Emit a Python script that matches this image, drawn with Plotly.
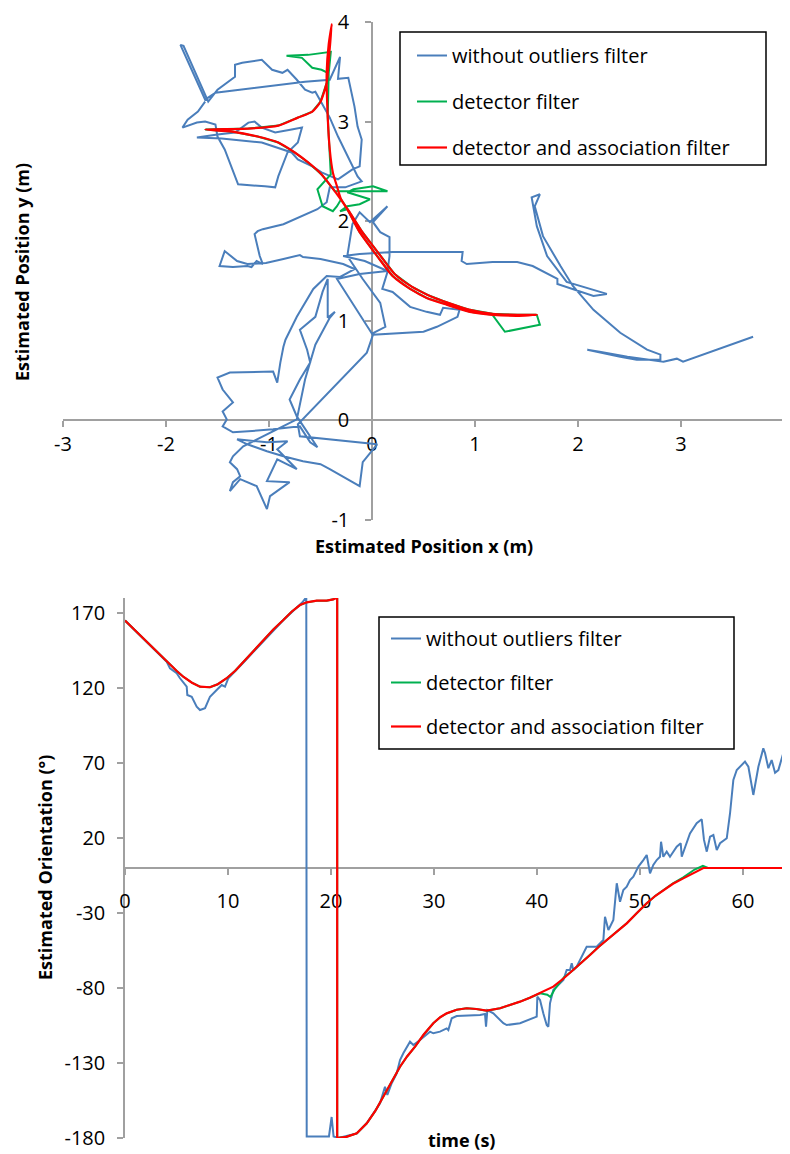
import plotly.graph_objects as go

# ---------------- data: top chart (estimated position, m) ----------------
pos_blue_x = [
    -1.62, -1.69, -1.79, -1.84, -1.70, -1.62, -1.52, -1.50, -1.43, -1.36,
    -1.30, -1.04, -0.94, -0.91, -0.82, -0.72, -0.68, -0.78, -0.94, -1.07,
    -1.14, -1.20, -1.33, -1.50, -1.70, -1.46, -1.07, -0.78, -0.72, -0.58,
    -0.49, -0.33, -0.19, -0.12, -0.10, -0.14, -0.17, -0.23, -0.33, -0.31,
    -0.41, -0.65, -1.04, -1.52, -1.62, -1.86, -1.83, -1.59, -1.50, -1.33,
    -1.33, -1.26, -1.07, -0.97, -0.87, -0.82, -0.73, -0.65, -0.58, -0.55,
    -0.49, -0.41, -0.33, -0.19, -0.14, -0.10, -0.26, -0.41,
    -0.44, -0.53, -0.70, -0.86, -1.06, -1.11, -1.14, -1.09, -1.06, -1.12,
    -1.17, -1.21, -1.35, -1.48, -1.43, -1.31, -1.21, -1.03, -0.86, -0.70,
    -0.67, -0.50, -0.28, -0.17, -0.31,
    -0.44, -0.57, -0.73, -0.84, -0.86, -0.89, -0.92, -0.96, -1.38, -1.50,
    -1.45, -1.35, -1.45, -1.41, -1.45, -1.35, -0.96, -0.70, -0.60, -0.53,
    -0.67, -0.73, -0.80, -0.70, -0.60, -0.63, -0.70, -0.55, -0.48, -0.43,
    -0.43, -0.36, -0.41, -0.55, -0.65, -0.73,
    -1.25, -1.35, -1.38, -1.31, -1.28, -1.35, -1.38, -1.28, -1.12, -1.02,
    -0.99, -0.80, -1.02, -0.92, -0.73, -0.80, -0.92, -0.82, -1.02, -1.31,
    -1.21, -1.02, -0.86, -0.67, -0.50, -0.41, -0.12, -0.09, 0.05, -0.70,
    -0.72, -0.05,
    0.01, 0.50, 0.63, 0.83, 0.85, 0.69, 0.66, 0.53, 0.37, 0.20,
    0.10, 0.15, 0.17, 0.17, 0.08, 0.01, 0.15, -0.02, -0.12, -0.19,
    -0.24, -0.09, 0.08, 0.13, 0.00, -0.34, -0.12, 0.15, -0.07, -0.28,
    -0.12, 0.20, 0.88, 0.87, 0.92, 1.17, 1.41, 1.56, 1.80, 1.80,
    1.95, 2.15, 2.28, 1.89, 1.70, 1.60, 1.55, 1.63, 1.58, 1.66,
    1.83, 1.95, 2.15, 2.41, 2.67, 2.80, 2.80, 2.57, 2.41, 2.09,
    2.21, 2.48, 2.83, 2.96, 3.02, 3.70,
]
pos_blue_y = [
    3.20, 3.10, 3.02, 2.94, 2.99, 3.00, 2.97, 2.85, 2.72, 2.52,
    2.37, 2.35, 2.34, 2.45, 2.69, 2.79, 2.94, 2.92, 2.89, 2.94,
    3.00, 2.99, 2.89, 2.87, 2.84, 2.83, 2.79, 2.69, 2.62, 2.55,
    2.49, 2.42, 2.52, 2.55, 2.82, 2.95, 3.15, 3.44, 3.43, 3.65,
    3.42, 3.40, 3.35, 3.29, 3.22, 3.77, 3.76, 3.20, 3.32, 3.45,
    3.57, 3.59, 3.62, 3.52, 3.49, 3.52, 3.42, 3.32, 3.29, 3.30,
    3.19, 3.04, 2.85, 2.55, 2.45, 2.40, 2.34, 2.34,
    2.19, 2.12, 2.04, 1.97, 1.92, 1.90, 1.87, 1.65, 1.57, 1.60,
    1.54, 1.55, 1.54, 1.55, 1.70, 1.60, 1.57, 1.58, 1.62, 1.66,
    1.64, 1.62, 1.57, 1.52, 1.44,
    1.45, 1.32, 1.04, 0.81, 0.74, 0.58, 0.38, 0.49, 0.48, 0.43,
    0.31, 0.18, 0.09, 0.01, -0.06, -0.12, -0.09, -0.06, -0.22, -0.27,
    -0.06, 0.04, 0.21, 0.41, 0.58, 0.71, 0.91, 1.04, 1.29, 1.42,
    1.03, 1.09, 1.03, 0.76, 0.41, 0.01,
    -0.26, -0.36, -0.42, -0.49, -0.56, -0.62, -0.71, -0.59, -0.66, -0.89,
    -0.76, -0.62, -0.61, -0.39, -0.49, -0.42, -0.29, -0.21, -0.22, -0.19,
    -0.24, -0.31, -0.36, -0.41, -0.44, -0.49, -0.66, -0.42, -0.24, -0.16,
    -0.04, 0.68,
    0.86, 0.89, 0.94, 1.04, 1.11, 1.13, 1.06, 1.09, 1.14, 1.29,
    1.32, 1.49, 1.65, 1.84, 1.89, 1.99, 2.15, 1.99, 2.09, 1.97,
    1.65, 1.42, 1.18, 0.94, 0.87, 1.42, 1.47, 1.50, 1.60, 1.65,
    1.67, 1.69, 1.69, 1.60, 1.57, 1.59, 1.59, 1.55, 1.42, 1.37,
    1.32, 1.25, 1.27, 1.39, 1.65, 1.95, 2.24, 2.27, 2.15, 1.85,
    1.55, 1.35, 1.11, 0.88, 0.71, 0.66, 0.61, 0.61, 0.64, 0.71,
    0.69, 0.64, 0.59, 0.62, 0.59, 0.84,
]
pos_green_x = [
    1.60, 1.63, 1.29, 1.17, 0.95, 0.73, 0.53, 0.37, 0.20, 0.05,
    -0.12, -0.24, -0.31, -0.24, -0.12, -0.02, -0.24, -0.18, 0.01, 0.15,
    -0.36, -0.49, -0.62, -0.75, -0.91, -1.11, -1.36, -1.62, -1.20, -0.91,
    -0.72, -0.58, -0.50, -0.44, -0.43, -0.49, -0.58, -0.68, -0.83, -0.62,
    -0.40, -0.42, -0.43, -0.41, -0.40, -0.53, -0.50, -0.48, -0.38, -0.34,
    -0.30, -0.21, -0.10, 0.07, 0.22, 0.39, 0.54, 0.74, 0.95, 1.17,
    1.41, 1.60,
]
pos_green_y = [
    1.06, 0.96, 0.89, 1.06, 1.09, 1.16, 1.23, 1.32, 1.45, 1.65,
    1.89, 2.12, 2.10, 2.15, 2.17, 2.22, 2.29, 2.32, 2.35, 2.30,
    2.30, 2.47, 2.59, 2.69, 2.79, 2.85, 2.90, 2.92, 2.93, 2.96,
    3.04, 3.10, 3.20, 3.39, 3.49, 3.52, 3.54, 3.64, 3.66, 3.67,
    3.70, 3.49, 3.05, 2.72, 2.47, 2.32, 2.22, 2.15, 2.10, 2.15,
    2.22, 2.08, 1.90, 1.67, 1.47, 1.34, 1.26, 1.18, 1.11, 1.07,
    1.06, 1.06,
]
pos_red_x = [
    1.60, 1.41, 1.17, 0.95, 0.73, 0.53, 0.37, 0.20, 0.05, -0.12,
    -0.24, -0.36, -0.49, -0.62, -0.75, -0.91, -1.11, -1.36, -1.62,
    -1.20, -0.91, -0.72, -0.58, -0.50, -0.44, -0.42, -0.39,
    -0.42, -0.44, -0.43, -0.41, -0.38, -0.34, -0.30, -0.21, -0.10, 0.07,
    0.22, 0.39, 0.54, 0.74, 0.95, 1.17, 1.41, 1.60,
]
pos_red_y = [
    1.06, 1.05, 1.06, 1.09, 1.16, 1.23, 1.32, 1.45, 1.65, 1.89,
    2.12, 2.30, 2.47, 2.59, 2.69, 2.79, 2.85, 2.90, 2.92,
    2.93, 2.96, 3.04, 3.10, 3.20, 3.39, 3.62, 3.98,
    3.78, 3.49, 3.05, 2.72, 2.49, 2.35, 2.22, 2.08, 1.90, 1.67,
    1.47, 1.34, 1.26, 1.18, 1.11, 1.07, 1.06, 1.06,
]

# ---------------- data: bottom chart (orientation, deg vs time, s) ----------------
ori_blue_t = [
    0, 2.0, 4.05, 4.37, 5.02, 5.34, 5.99, 6.05, 6.48, 6.96,
    7.28, 7.77, 8.25, 8.90, 9.39, 9.71, 10.03, 11.5, 13.4, 15.4,
    16.5, 17.2, 17.6, 17.64, 19.8, 20.06, 20.25, 20.71, 22.50, 23.47,
    24.76, 25.24, 25.47, 25.89, 26.38, 26.70, 27.02, 27.67, 27.99, 28.64,
    29.61, 29.93, 30.58, 31.23, 31.39, 31.72, 32.20, 34.47, 34.95, 35.05,
    35.18, 35.76, 36.73, 37.06, 38.35, 39.97, 40.03, 40.29, 40.61, 40.94,
    41.10, 41.26, 41.58, 41.91, 42.56, 42.88, 43.20, 43.37, 43.52, 43.85,
    44.82, 45.79, 46.12, 46.44, 46.60, 46.93, 47.41, 47.74, 48.06, 48.38,
    48.71, 49.03, 49.35, 49.84, 50.32, 50.65, 50.97, 51.29, 51.62, 51.94,
    52.04, 52.26, 52.59, 52.91, 53.56, 53.95, 54.05, 54.37, 54.85, 55.50,
    55.99, 56.21, 56.48, 56.80, 57.12, 57.45, 57.77, 58.42, 58.74, 59.06,
    59.39, 60.19, 60.52, 61.00, 61.49, 61.97, 62.14, 62.46, 62.78, 63.11,
    63.43, 64.56,
]
ori_blue_v = [
    165, 151.5, 137.5, 133.1, 129.8, 126.5, 120.9, 115.3, 114.2, 107.5,
    105.3, 106.5, 114.2, 118.7, 122.0, 120.9, 126.5, 137.0, 151.0, 165.5,
    172.5, 177.0, 180.5, -179, -179, -166, -179, -180, -176.9, -170.2,
    -156.9, -145.8, -151.3, -143.5, -136.9, -128.0, -123.5, -115.8, -118.0, -114.7,
    -109.1, -110.2, -109.1, -106.9, -108.0, -100.2, -98.7, -98.0, -97.3, -105.8,
    -94.7, -96.9, -103.5, -104.7, -103.5, -99.1, -85.8, -88.0, -96.9, -104.7,
    -105.8, -90.2, -81.3, -79.1, -74.7, -68.0, -68.0, -63.5, -68.0, -65.8,
    -52.5, -52.5, -50.2, -48.0, -32.5, -41.3, -34.7, -10.2, -22.5, -14.7,
    -12.5, -8.0, -5.8, 0.9, 5.3, 8.7, -3.6, 2.0, 5.3, 7.5,
    17.5, 7.5, 10.9, 7.5, 14.2, 16.5, 7.5, 14.2, 23.1, 29.8,
    32.5, 18.7, 10.9, 20.9, 22.0, 12.0, 16.5, 19.8, 36.5, 58.7,
    65.3, 70.9, 67.5, 48.7, 67.5, 79.8, 76.5, 66.5, 72.0, 63.5,
    65.3, 92.0,
]
ori_red_t = [
    0, 1.0, 2.0, 3.0, 4.05, 5.0, 5.66, 6.5, 7.28, 8.25,
    9.0, 9.87, 10.7, 11.49, 12.5, 13.43, 14.4, 15.37, 16.2, 16.99,
    17.64, 18.61, 19.58, 20.22, 20.6, 20.6, 21.5, 22.5, 23.47, 24.3,
    25.08, 25.9, 26.7, 27.4, 28.16, 29.0, 29.93, 30.6, 31.23, 32.2,
    33.17, 34.1, 35.12, 36.41, 37.4, 38.35, 39.3, 40.29, 41.58, 42.6,
    43.52, 44.3, 45.15, 46.0, 46.77, 47.7, 48.71, 49.7, 50.65, 51.5,
    52.26, 53.2, 54.2, 55.2, 56.15, 64.56,
]
ori_red_v = [
    165, 158.2, 151.5, 144.5, 137.5, 131.5, 127.5, 123.5, 120.9, 120.5,
    122.5, 126.5, 131.5, 137.5, 145.0, 152.0, 159.0, 165.3, 171.0, 175.3,
    177.1, 178.2, 178.2, 179.1, 180.5, -180, -179.2, -176.9, -170.2, -162.0,
    -152.5, -142.5, -132.5, -125.5, -119.1, -111.0, -103.5, -99.5, -96.9, -94.5,
    -93.5, -94.0, -95.1, -93.5, -91.5, -89.1, -86.5, -83.5, -79.1, -73.5,
    -68.0, -63.0, -58.0, -52.5, -48.0, -42.5, -36.9, -30.0, -23.5, -18.5,
    -14.7, -10.5, -6.9, -3.3, 0, 0,
]
ori_green_t = [
    0, 1.0, 2.0, 3.0, 4.05, 5.0, 5.66, 6.5, 7.28, 8.25,
    9.0, 9.87, 10.7, 11.49, 12.5, 13.43, 14.4, 15.37, 16.2, 16.99,
    17.64, 18.61, 19.58, 20.22, 20.6, 20.6, 21.5, 22.5, 23.47, 24.3,
    25.08, 25.9, 26.7, 27.4, 28.16, 29.0, 29.93, 30.6, 31.23, 32.2,
    33.17, 34.1, 35.12, 36.41, 37.4, 38.35, 39.3, 40.29, 41.0, 41.3,
    41.7, 42.6, 43.52, 44.3, 45.15, 46.0, 46.77, 47.7, 48.71, 49.7,
    50.65, 51.5, 52.26, 53.2, 54.2, 55.3, 56.1, 56.6, 64.56,
]
ori_green_v = [
    165, 158.2, 151.5, 144.5, 137.5, 131.5, 127.5, 123.5, 120.9, 120.5,
    122.5, 126.5, 131.5, 137.5, 145.0, 152.0, 159.0, 165.3, 171.0, 175.3,
    177.1, 178.2, 178.2, 179.1, 180.5, -180, -179.2, -176.9, -170.2, -162.0,
    -152.5, -142.5, -132.5, -125.5, -119.1, -111.0, -103.5, -99.5, -96.9, -94.5,
    -93.5, -94.0, -95.1, -93.5, -91.5, -89.1, -86.5, -83.5, -84.5, -86.0,
    -81.0, -73.0, -68.0, -63.0, -58.0, -52.5, -48.0, -42.5, -36.9, -30.0,
    -23.5, -18.5, -14.7, -10.2, -6.2, -1.0, 1.5, 0, 0,
]

# tick labels (hyphen-minus as in the reference)
top_x_ticks = [-3, -2, -1, 0, 1, 2, 3, 4]
top_x_labels = ["-3", "-2", "-1", "0", "1", "2", "3", "4"]
top_y_ticks = [-1, 0, 1, 2, 3, 4]
top_y_labels = ["-1", "0", "1", "2", "3", "4"]
bot_x_ticks = [0, 10, 20, 30, 40, 50, 60]
bot_x_labels = ["0", "10", "20", "30", "40", "50", "60"]
bot_y_ticks = [-180, -130, -80, -30, 20, 70, 120, 170]
bot_y_labels = ["-180", "-130", "-80", "-30", "20", "70", "120", "170"]

series_names = ["without outliers filter", "detector filter", "detector and association filter"]
series_colors = ["#4a7ebb", "#00b050", "#ff0000"]

for a, b in [(pos_blue_x, pos_blue_y), (pos_green_x, pos_green_y), (pos_red_x, pos_red_y),
             (ori_blue_t, ori_blue_v), (ori_green_t, ori_green_v), (ori_red_t, ori_red_v)]:
    assert len(a) == len(b), (len(a), len(b))

# ---------------- layout geometry ----------------
# the page body has an 8px margin, so the figure is sized to fill the rest of the window
OFF = 8
WIN_W, WIN_H = 790, 1154
W, H = WIN_W - OFF, WIN_H - OFF
FONT = "Open Sans"
AX = "#a0a0a0"

def fx(p):
    return (p - OFF) / W

def fy(p):
    return 1 - (p - OFF) / H

top_xdom = [fx(63), fx(784)]
top_ydom = [fy(520), fy(22)]
bot_xdom = [fx(125), 1.0]
bot_ydom = [fy(1138), fy(598)]

top_xr = [-3, 4]
top_yr = [-1, 4]
bot_xr = [0, 64.56]
bot_yr = [-180, 180]

top_xaxis_pos = top_ydom[0] + (0 - top_yr[0]) / (top_yr[1] - top_yr[0]) * (top_ydom[1] - top_ydom[0])
top_yaxis_pos = top_xdom[0] + (0 - top_xr[0]) / (top_xr[1] - top_xr[0]) * (top_xdom[1] - top_xdom[0])
bot_xaxis_pos = bot_ydom[0] + (0 - bot_yr[0]) / (bot_yr[1] - bot_yr[0]) * (bot_ydom[1] - bot_ydom[0])

fig = go.Figure()

top_sets = [(pos_blue_x, pos_blue_y), (pos_green_x, pos_green_y), (pos_red_x, pos_red_y)]
bot_sets = [(ori_blue_t, ori_blue_v), (ori_green_t, ori_green_v), (ori_red_t, ori_red_v)]
shapes_top = ["linear", "linear", "spline"]

for i, (xs, ys) in enumerate(top_sets):
    fig.add_trace(go.Scatter(
        x=xs, y=ys, mode="lines", name=series_names[i],
        line=dict(color=series_colors[i], width=2.2 if i == 2 else 2, shape=shapes_top[i], smoothing=0.6),
        xaxis="x", yaxis="y", legend="legend", legendgroup="t%d" % i,
        hoverinfo="skip"))

for i, (xs, ys) in enumerate(bot_sets):
    fig.add_trace(go.Scatter(
        x=xs, y=ys, mode="lines", name=series_names[i],
        line=dict(color=series_colors[i], width=2.2 if i == 2 else 2),
        xaxis="x2", yaxis="y2", legend="legend2", legendgroup="b%d" % i,
        hoverinfo="skip"))

tickfont = dict(family=FONT, size=20, color="black")
common = dict(showline=True, linecolor=AX, linewidth=1.5, ticks="outside", ticklen=6,
              tickcolor=AX, tickwidth=1.5, showgrid=False, zeroline=False, tickfont=tickfont,
              automargin=False, tickmode="array", layer="below traces")

legend_common = dict(font=dict(family=FONT, size=20, color="black"), bgcolor="rgba(0,0,0,0)",
                     borderwidth=0, xanchor="left", yanchor="top",
                     traceorder="grouped", itemclick=False, itemdoubleclick=False)

title_font = dict(family=FONT, size=18, color="black")

fig.update_layout(
    width=W, height=H, margin=dict(l=0, r=0, t=0, b=0, autoexpand=False),
    paper_bgcolor="white", plot_bgcolor="white", showlegend=True,
    xaxis=dict(domain=top_xdom, range=top_xr, tickvals=top_x_ticks, ticktext=top_x_labels,
               anchor="free", position=top_xaxis_pos, **common),
    yaxis=dict(domain=top_ydom, range=top_yr, tickvals=top_y_ticks, ticktext=top_y_labels,
               anchor="free", position=top_yaxis_pos, ticklabelstandoff=12, **common),
    xaxis2=dict(domain=bot_xdom, range=bot_xr, tickvals=bot_x_ticks, ticktext=bot_x_labels,
                anchor="free", position=bot_xaxis_pos, ticklabelstandoff=9, **common),
    yaxis2=dict(domain=bot_ydom, range=bot_yr, tickvals=bot_y_ticks, ticktext=bot_y_labels,
                anchor="x2", ticklabelstandoff=8, **common),
    legend=dict(x=fx(412), y=fy(36), tracegroupgap=17, **legend_common),
    legend2=dict(x=fx(386), y=fy(619), tracegroupgap=15, **legend_common),
    shapes=[
        dict(type="rect", xref="paper", yref="paper", x0=fx(400), x1=fx(766), y0=fy(165), y1=fy(32),
             line=dict(color="black", width=1.5), fillcolor="rgba(0,0,0,0)", layer="above"),
        dict(type="rect", xref="paper", yref="paper", x0=fx(379), x1=fx(734), y0=fy(749), y1=fy(617),
             line=dict(color="black", width=1.5), fillcolor="rgba(0,0,0,0)", layer="above"),
    ],
    annotations=[
        dict(text="<b>Estimated Position x (m)</b>", xref="paper", yref="paper", x=fx(424), y=fy(546),
             xanchor="center", yanchor="middle", showarrow=False, font=title_font),
        dict(text="<b>Estimated Position y (m)</b>", xref="paper", yref="paper", x=fx(22), y=fy(272),
             xanchor="center", yanchor="middle", showarrow=False, textangle=-90, font=title_font),
        dict(text="<b>Estimated Orientation (°)</b>", xref="paper", yref="paper", x=fx(45), y=fy(868),
             xanchor="center", yanchor="middle", showarrow=False, textangle=-90, font=title_font),
        dict(text="<b>time (s)</b>", xref="paper", yref="paper", x=fx(461), y=fy(1140),
             xanchor="center", yanchor="middle", showarrow=False, font=title_font),
    ],
)

fig.write_html("out.html")
